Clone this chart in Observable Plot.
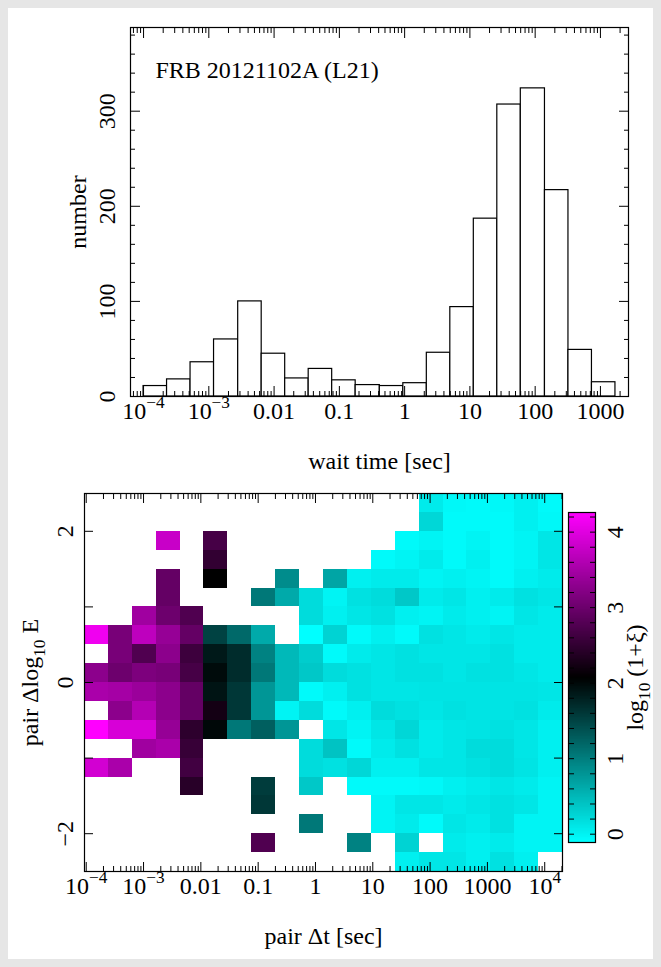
<!DOCTYPE html>
<html><head><meta charset="utf-8">
<script src="https://cdn.jsdelivr.net/npm/d3@7"></script>
<script src="https://cdn.jsdelivr.net/npm/@observablehq/plot@0.6"></script>
<style>
html,body{margin:0;padding:0;}
body{width:661px;height:967px;background:#e6e6e6;position:relative;overflow:hidden;font-family:"Liberation Serif",serif;}
#panel{position:absolute;left:8px;top:8px;width:645px;height:951px;background:#fff;}
.abs{position:absolute;left:0;}
.abs svg{background:transparent;}
</style></head><body>
<div id="panel"></div>
<div id="top" class="abs" style="top:0px"></div>
<div id="bot" class="abs" style="top:470px"></div>
<div id="cbar" class="abs" style="left:540px;top:470px"></div>
<script>
// ---------------- data: top histogram ----------------
const histTitle = "FRB 20121102A (L21)";
const histEdgesLog = [-4.00, -3.64, -3.28, -2.92, -2.55, -2.19, -1.83, -1.47, -1.11, -0.75, -0.38, -0.02, 0.34, 0.70, 1.06, 1.42, 1.78, 2.15, 2.51, 2.87, 3.23];
const histCounts = [11, 18, 36, 60, 100, 45, 19, 29, 17, 12, 11, 14, 46, 94, 187, 307, 324, 217, 49, 15];
const topXDomainLog = [-4.2, 3.43];
const topYDomain = [0, 388];
const topXTicks = [1e-4, 1e-3, 1e-2, 1e-1, 1, 10, 100, 1000];
const topXTickLabels = ["10^{−4}", "10^{−3}", "0.01", "0.1", "1", "10", "100", "1000"];
const topYTicks = [0, 100, 200, 300];
const topYTickLabels = ["0", "100", "200", "300"];
const topYMinor = [20, 40, 60, 80, 120, 140, 160, 180, 220, 240, 260, 280, 320, 340, 360, 380];
const topXLabel = "wait time [sec]";
const topYLabel = "number";

// ---------------- data: bottom 2D map ----------------
const heatColEdgesLog = [-4.03, -3.61, -3.20, -2.78, -2.36, -1.95, -1.53, -1.11, -0.69, -0.28, 0.14, 0.56, 0.97, 1.39, 1.81, 2.23, 2.64, 3.06, 3.48, 3.89, 4.31];
const heatRowEdges = [2.5, 2.25, 2.0, 1.75, 1.5, 1.25, 1.0, 0.75, 0.5, 0.25, 0.0, -0.25, -0.5, -0.75, -1.0, -1.25, -1.5, -1.75, -2.0, -2.25, -2.5];
const _ = null;
// log10(1+xi) per cell, rows from top (dlogE 2.5) to bottom, columns from small to large dt
const heatRows = [
  [_,_,_,_,_,_,_,_,_,_,_,_,_,_,0.06,-0.05,-0.07,-0.05,0.02,-0.07],
  [_,_,_,_,_,_,_,_,_,_,_,_,_,_,0.23,-0.07,-0.07,-0.07,0.02,-0.05],
  [_,_,_,3.79,_,2.67,_,_,_,_,_,_,_,-0.07,-0.02,-0.07,-0.02,-0.07,-0.02,0.10],
  [_,_,_,_,_,2.50,_,_,_,_,_,_,-0.07,-0.02,0.06,-0.07,0.02,-0.07,-0.02,0.10],
  [_,_,_,2.93,_,2.07,_,_,0.87,_,0.66,0.02,0.06,0.06,-0.02,0.02,-0.02,-0.07,0.02,0.06],
  [_,_,_,2.93,_,_,_,1.04,0.62,0.19,-0.02,0.15,0.19,0.36,0.06,0.10,0.02,0.06,0.15,0.10],
  [_,_,3.44,3.01,2.76,_,_,_,_,0.19,0.02,0.10,0.15,0.02,-0.02,0.06,0.02,-0.02,0.10,0.06],
  [4.13,3.10,3.70,3.36,2.93,1.51,1.17,0.62,_,-0.11,0.27,-0.07,0.02,-0.07,0.15,0.10,0.06,0.10,0.06,0.06],
  [_,3.10,2.76,3.27,2.59,1.86,1.69,0.96,0.49,0.32,-0.07,0.06,0.10,0.15,0.10,0.10,0.10,0.15,0.06,0.06],
  [3.27,3.01,3.14,3.10,2.67,1.98,1.69,1.04,0.49,0.36,0.19,0.15,0.10,0.15,0.15,0.10,0.15,0.15,0.10,0.06],
  [3.53,3.49,3.40,3.27,2.93,1.90,1.60,0.79,0.49,-0.07,0.02,0.15,0.10,0.10,0.12,0.12,0.12,0.12,0.12,0.10],
  [_,3.27,3.62,3.27,2.93,2.24,1.60,0.79,-0.02,0.19,-0.07,0.02,0.19,0.15,0.10,0.15,0.12,0.12,0.15,0.06],
  [4.26,3.92,3.92,3.36,2.46,2.00,1.04,1.26,0.79,_,0.10,-0.02,0.10,0.23,0.06,0.10,0.12,0.15,0.10,0.02],
  [_,_,3.44,3.53,2.54,_,_,_,_,0.19,0.40,-0.07,0.06,0.15,0.06,0.10,0.19,0.19,0.10,0.02],
  [3.87,3.53,_,_,2.63,_,_,_,_,0.19,0.15,0.23,0.02,0.02,0.10,0.10,0.15,0.19,0.12,0.02],
  [_,_,_,_,2.41,_,_,1.56,_,0.36,_,-0.07,-0.07,-0.07,-0.05,0.02,0.06,0.10,0.06,-0.02],
  [_,_,_,_,_,_,_,1.60,_,_,_,_,-0.02,0.10,0.10,0.06,0.10,0.15,0.10,-0.02],
  [_,_,_,_,_,_,_,_,_,1.04,_,_,-0.02,0.06,-0.07,0.10,0.06,0.15,-0.02,-0.02],
  [_,_,_,_,_,_,_,2.76,_,_,_,0.96,_,0.27,_,0.06,0.02,0.06,-0.02,-0.02],
  [_,_,_,_,_,_,_,_,_,_,_,_,_,0.02,0.10,0.10,0.02,0.15,0.02,_]
];
const botXDomainLog = [-4.03, 4.31];
const botYDomain = [-2.5, 2.5];
const botXTicks = [1e-4, 1e-3, 1e-2, 1e-1, 1, 10, 100, 1000, 1e4];
const botXTickLabels = ["10^{−4}", "10^{−3}", "0.01", "0.1", "1", "10", "100", "1000", "10^{4}"];
const botYTicks = [-2, -1, 0, 1, 2];
const botYLabelTicks = [-2, 0, 2];
const botYTickLabels = ["−2", "0", "2"];
const botXLabel = "pair Δt [sec]";
const botYLabel = "pair Δlog_{10} E";

// ---------------- data: colour bar ----------------
const colorDomain = [-0.11, 2.07, 4.26];
const colorRange = ["#00ffff", "#000000", "#ff00ff"];
const cbarLabelTicks = [0, 1, 2, 3, 4];
const cbarTickLabels = ["0", "1", "2", "3", "4"];
const cbarTicks = [0, 0.2, 0.4, 0.6, 0.8, 1, 1.2, 1.4, 1.6, 1.8, 2, 2.2, 2.4, 2.6, 2.8, 3, 3.2, 3.4, 3.6, 3.8, 4, 4.2];
const cbarLabel = "log_{10} (1+ξ)";

const minorMultipliers = [2, 3, 4, 5, 6, 7, 8, 9];
const decades = [1e-5, 1e-4, 1e-3, 1e-2, 1e-1, 1, 10, 100, 1000, 1e4];

// ---------------- helpers ----------------
const FONT = "Liberation Serif";
const FS = 24;
const NS = "http://www.w3.org/2000/svg";
function minorTicks(domLog) {
  const out = [];
  for (const d of decades) for (const m of minorMultipliers) {
    const v = d * m, l = Math.log10(v);
    if (l > domLog[0] && l < domLog[1]) out.push(v);
  }
  return out;
}
function richify(root) {
  root.querySelectorAll("text").forEach(t => {
    const s = t.textContent;
    if (!/[\^_]\{/.test(s)) return;
    const fs = parseFloat(getComputedStyle(t).fontSize) || FS;
    const parts = s.split(/(\^\{[^}]*\}|_\{[^}]*\})/).filter(p => p !== "");
    while (t.firstChild) t.removeChild(t.firstChild);
    let shift = 0;
    for (const p of parts) {
      const ts = document.createElementNS(NS, "tspan");
      let target = 0, txt = p, small = false;
      if (p.startsWith("^{")) { target = -0.42; txt = p.slice(2, -1); small = true; }
      else if (p.startsWith("_{")) { target = 0.3; txt = p.slice(2, -1); small = true; }
      const dy = (target - shift) * fs;
      if (dy !== 0) ts.setAttribute("dy", dy.toFixed(2));
      if (small) ts.setAttribute("font-size", (fs * 0.72).toFixed(1));
      ts.textContent = txt;
      t.appendChild(ts);
      shift = target;
    }
  });
}
function axesTicks(xMajor, xMinor, yMajor, yMinor, big, small) {
  const m = [];
  for (const anchor of ["bottom", "top"]) {
    m.push(Plot.axisX(xMajor, {anchor, tickSize: -big, fill: "none", stroke: "black"}));
    m.push(Plot.axisX(xMinor, {anchor, tickSize: -small, fill: "none", stroke: "black"}));
  }
  for (const anchor of ["left", "right"]) {
    m.push(Plot.axisY(yMajor, {anchor, tickSize: -big, fill: "none", stroke: "black"}));
    if (yMinor.length) m.push(Plot.axisY(yMinor, {anchor, tickSize: -small, fill: "none", stroke: "black"}));
  }
  return m;
}

// ---------------- top histogram ----------------
const bars = histCounts.map((c, i) => ({x1: 10 ** histEdgesLog[i], x2: 10 ** histEdgesLog[i + 1], n: c}));
const topPlot = Plot.plot({
  width: 661, height: 480,
  marginLeft: 130, marginRight: 33, marginTop: 27, marginBottom: 84,
  style: {fontFamily: FONT, fontSize: FS + "px", background: "transparent", color: "black"},
  x: {type: "log", domain: topXDomainLog.map(v => 10 ** v), axis: null},
  y: {domain: topYDomain, axis: null},
  marks: [
    Plot.rectY(bars, {x1: "x1", x2: "x2", y: "n", fill: "white", stroke: "black", strokeWidth: 1.2}),
    ...axesTicks(topXTicks, minorTicks(topXDomainLog), topYTicks, topYMinor, 10, 5),
    Plot.frame({stroke: "black", strokeWidth: 1.2}),
    Plot.text(topXTicks, {x: d => d, text: (d, i) => topXTickLabels[i], frameAnchor: "bottom", dy: 5, lineAnchor: "top", textAnchor: "middle", fontSize: FS}),
    Plot.text(topYTicks, {y: d => d, text: (d, i) => topYTickLabels[i], frameAnchor: "left", dx: -16, rotate: -90, textAnchor: "middle", lineAnchor: "bottom", fontSize: FS}),
    Plot.text([topXLabel], {text: d => d, frameAnchor: "bottom", dy: 72, textAnchor: "middle", lineAnchor: "bottom", fontSize: FS}),
    Plot.text([topYLabel], {text: d => d, frameAnchor: "left", dx: -45, rotate: -90, textAnchor: "middle", lineAnchor: "bottom", fontSize: FS}),
    Plot.text([histTitle], {text: d => d, frameAnchor: "top-left", dx: 25, dy: 50, textAnchor: "start", lineAnchor: "bottom", fontSize: FS})
  ]
});
document.getElementById("top").appendChild(topPlot);
richify(topPlot);

// ---------------- bottom map ----------------
const cells = [];
heatRows.forEach((row, i) => row.forEach((v, j) => {
  if (v === null) return;
  cells.push({x1: 10 ** heatColEdgesLog[j], x2: 10 ** heatColEdgesLog[j + 1], y1: heatRowEdges[i + 1], y2: heatRowEdges[i], v});
}));
const colorOpts = {type: "linear", domain: colorDomain, range: colorRange, interpolate: "rgb"};
const botPlot = Plot.plot({
  width: 661, height: 497,
  marginLeft: 84, marginRight: 99, marginTop: 23, marginBottom: 96,
  style: {fontFamily: FONT, fontSize: FS + "px", background: "transparent", color: "black"},
  x: {type: "log", domain: botXDomainLog.map(v => 10 ** v), axis: null},
  y: {domain: botYDomain, axis: null},
  color: colorOpts,
  marks: [
    Plot.rect(cells, {x1: "x1", x2: "x2", y1: "y1", y2: "y2", fill: "v", shapeRendering: "crispEdges"}),
    ...axesTicks(botXTicks, minorTicks(botXDomainLog), botYTicks, [], 9, 5),
    Plot.frame({stroke: "black", strokeWidth: 1.2}),
    Plot.text(botXTicks, {x: d => d, text: (d, i) => botXTickLabels[i], frameAnchor: "bottom", dy: 5, lineAnchor: "top", textAnchor: "middle", fontSize: FS}),
    Plot.text(botYLabelTicks, {y: d => d, text: (d, i) => botYTickLabels[i], frameAnchor: "left", dx: -12, rotate: -90, textAnchor: "middle", lineAnchor: "bottom", fontSize: FS}),
    Plot.text([botXLabel], {text: d => d, frameAnchor: "bottom", dy: 72, textAnchor: "middle", lineAnchor: "bottom", fontSize: FS}),
    Plot.text([botYLabel], {text: d => d, frameAnchor: "left", dx: -47, rotate: -90, textAnchor: "middle", lineAnchor: "bottom", fontSize: FS})
  ]
});
document.getElementById("bot").appendChild(botPlot);
richify(botPlot);

// ---------------- colour bar ----------------
const cbarSteps = d3.range(colorDomain[0], colorDomain[2], 0.01);
const cbarPlot = Plot.plot({
  width: 121, height: 400,
  marginLeft: 28, marginRight: 66, marginTop: 42, marginBottom: 28,
  style: {fontFamily: FONT, fontSize: FS + "px", background: "transparent", color: "black", overflow: "visible"},
  x: {domain: [0, 1], axis: null},
  y: {domain: [colorDomain[0], colorDomain[2]], axis: null},
  color: colorOpts,
  marks: [
    Plot.rect(cbarSteps, {x1: 0, x2: 1, y1: d => d, y2: d => Math.min(d + 0.012, colorDomain[2]), fill: d => d + 0.005, shapeRendering: "crispEdges"}),
    Plot.axisY(cbarTicks, {anchor: "left", tickSize: -6, fill: "none", stroke: "black"}),
    Plot.axisY(cbarTicks, {anchor: "right", tickSize: -6, fill: "none", stroke: "black"}),
    Plot.frame({stroke: "black", strokeWidth: 1.2}),
    Plot.text(cbarLabelTicks, {y: d => d, text: (d, i) => cbarTickLabels[i], frameAnchor: "right", dx: 10, rotate: -90, textAnchor: "middle", lineAnchor: "top", fontSize: FS}),
    Plot.text([cbarLabel], {text: d => d, frameAnchor: "right", dx: 30, rotate: -90, textAnchor: "middle", lineAnchor: "top", fontSize: FS})
  ]
});
document.getElementById("cbar").appendChild(cbarPlot);
richify(cbarPlot);
</script></body></html>
